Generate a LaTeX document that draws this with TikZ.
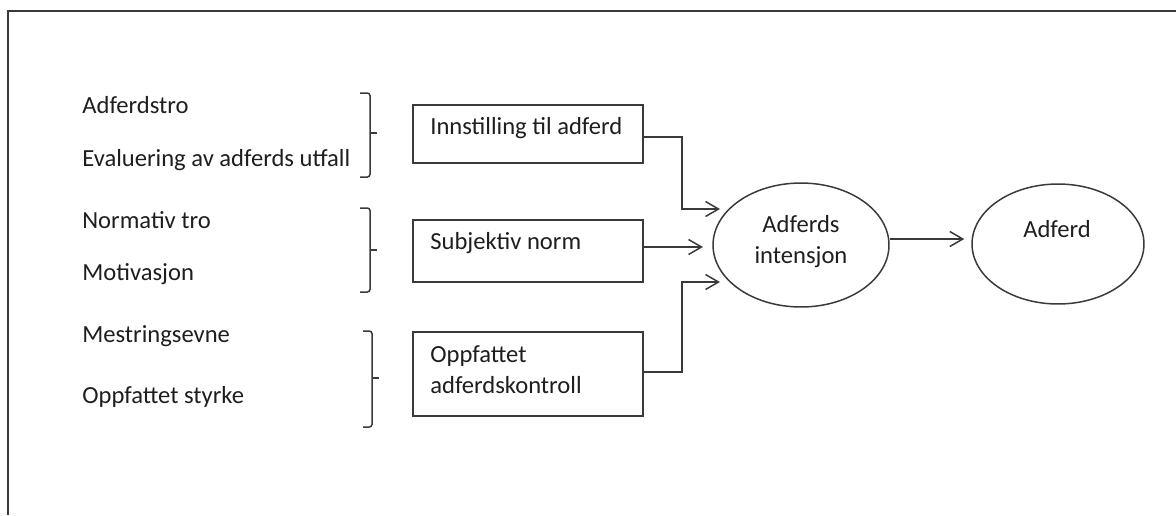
\documentclass[tikz,border=0pt]{standalone}
\usepackage{fontspec}
\setmainfont{Carlito}
\usetikzlibrary{arrows.meta,shapes.geometric}
\definecolor{linec}{HTML}{3A3A3A}
\definecolor{txtc}{HTML}{1E1E1E}
\begin{document}
\begin{tikzpicture}[x=0.02cm,y=-0.02cm,
  ln/.style={draw=linec, line width=0.85pt},
  txt/.style={anchor=base west, inner sep=0pt, text=txtc, font=\fontsize{14}{18}\selectfont},
  ctxt/.style={anchor=base, inner sep=0pt, text=txtc, font=\fontsize{14}{18}\selectfont},
  box/.style={ln, rectangle, minimum width=4.6cm, inner sep=0pt},
  oval/.style={ln, ellipse, inner sep=0pt},
  arr/.style={ln, -{Straight Barb[length=0.26cm,width=0.3cm,line width=0.85pt]}},
  brc/.style={ln, rounded corners=1.5pt}]
\useasboundingbox (0,0) rectangle (1176,515);
% frame
\draw[draw=linec, line width=1.1pt] (8,515) -- (8,11) -- (1176,11);

% left texts
\node[txt] (t1) at (82,113) {Adferdstro};
\node[txt] (t2) at (82,166) {Evaluering av adferds utfall};
\node[txt] (t3) at (82,228) {Normativ tro};
\node[txt] (t4) at (82,280) {Motivasjon};
\node[txt] (t5) at (82,342) {Mestringsevne};
\node[txt] (t6) at (82,403) {Oppfattet styrke};

% braces
\draw[brc] (360,93) -- (370,93) -- (370,177) -- (360,177);
\draw[ln] (370,133) -- (377,133);
\draw[brc] (360,208) -- (370,208) -- (370,292) -- (360,292);
\draw[ln] (370,250) -- (377,250);
\draw[brc] (363,331) -- (372,331) -- (372,427) -- (363,427);
\draw[ln] (372,378) -- (379,378);

% boxes
\node[box, minimum height=1.16cm] (b1) at (528,134) {};
\node[box, minimum height=1.24cm] (b2) at (528,251) {};
\node[box, minimum height=1.68cm] (b3) at (528,374) {};
\node[txt] (bt1) at (430,134) {Innstilling til adferd};
\node[txt] (bt2) at (430,249) {Subjektiv norm};
\node[txt] (bt3a) at (430,362) {Oppfattet};
\node[txt] (bt3b) at (430,393) {adferdskontroll};

% ellipses
\node[oval, minimum width=3.52cm, minimum height=2.48cm] (e1) at (801,245) {};
\node[ctxt] (et1a) at (801,232) {Adferds};
\node[ctxt] (et1b) at (801,263) {intensjon};
\node[oval, minimum width=3.44cm, minimum height=2.4cm] (e2) at (1058,244) {};
\node[ctxt] (et2) at (1057,237) {Adferd};

% connectors
\coordinate (a1) at (720,209);
\coordinate (a2) at (703,247);
\coordinate (a3) at (720,282);
\draw[arr] (b1.east |- 0,137) -- (682,137) |- (a1);
\draw[arr] (b2.east |- a2) -- (a2);
\draw[arr] (b3.east |- 0,372) -- (682,372) |- (a3);
\draw[arr] (e1.east |- 0,239) -- ([xshift=-0.14cm]e2.west |- 0,239);
\end{tikzpicture}
\end{document}
